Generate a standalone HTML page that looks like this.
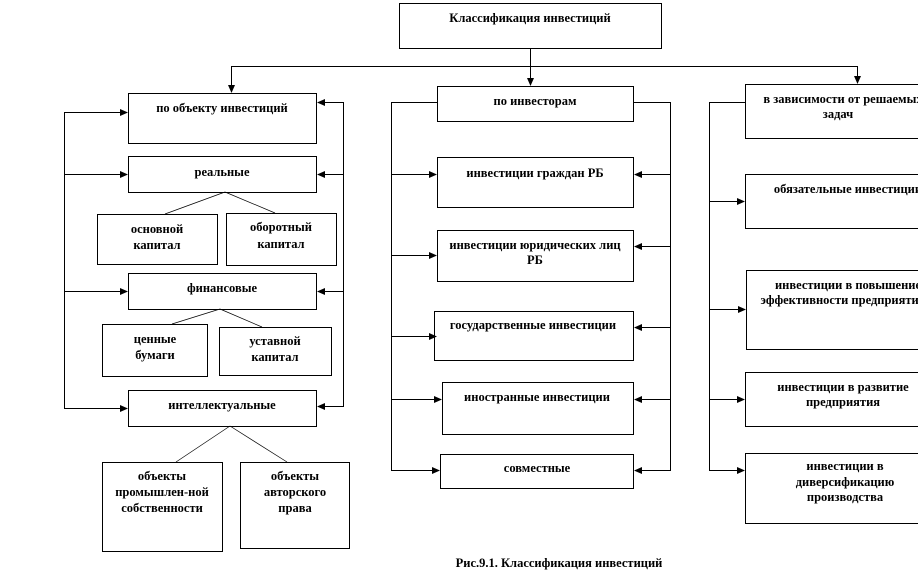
<!DOCTYPE html>
<html><head><meta charset="utf-8"><style>
html,body{margin:0;padding:0;background:#fff;}
svg{display:block;}
text{font-family:"Liberation Serif",serif;font-weight:bold;font-size:12.5px;fill:#000;text-anchor:middle;}
</style></head><body>
<svg width="918" height="588" viewBox="0 0 918 588" xmlns="http://www.w3.org/2000/svg">
<defs>
<marker id="a" markerWidth="8" markerHeight="8" refX="7" refY="4" orient="auto" markerUnits="userSpaceOnUse"><path d="M0,0.5 L8,4 L0,7.5Z" fill="#000"/></marker>
</defs>
<g fill="none" stroke="#000" stroke-width="1">
<rect x="399.5" y="3.5" width="262" height="45"/>
<line x1="530.5" y1="48" x2="530.5" y2="85" marker-end="url(#a)"/>
<line x1="231.5" y1="66.5" x2="857.5" y2="66.5"/>
<line x1="231.5" y1="66" x2="231.5" y2="92" marker-end="url(#a)"/>
<line x1="857.5" y1="66" x2="857.5" y2="83" marker-end="url(#a)"/>
<rect x="128.5" y="93.5" width="188" height="50"/>
<rect x="128.5" y="156.5" width="188" height="36"/>
<rect x="97.5" y="214.5" width="120" height="50"/>
<rect x="226.5" y="213.5" width="110" height="52"/>
<rect x="128.5" y="273.5" width="188" height="36"/>
<rect x="102.5" y="324.5" width="105" height="52"/>
<rect x="219.5" y="327.5" width="112" height="48"/>
<rect x="128.5" y="390.5" width="188" height="36"/>
<rect x="102.5" y="462.5" width="120" height="89"/>
<rect x="240.5" y="462.5" width="109" height="86"/>
<line x1="225" y1="192" x2="165" y2="214" stroke-width="0.7"/>
<line x1="225" y1="192" x2="275" y2="213" stroke-width="0.7"/>
<line x1="220" y1="309" x2="172" y2="324" stroke-width="0.7"/>
<line x1="220" y1="309" x2="262" y2="327" stroke-width="0.7"/>
<line x1="230" y1="426" x2="176" y2="462" stroke-width="0.7"/>
<line x1="230" y1="426" x2="287" y2="462" stroke-width="0.7"/>
<line x1="64.5" y1="112" x2="64.5" y2="408"/>
<line x1="64" y1="112.5" x2="127" y2="112.5" marker-end="url(#a)"/>
<line x1="64" y1="174.5" x2="127" y2="174.5" marker-end="url(#a)"/>
<line x1="64" y1="291.5" x2="127" y2="291.5" marker-end="url(#a)"/>
<line x1="64" y1="408.5" x2="127" y2="408.5" marker-end="url(#a)"/>
<line x1="343.5" y1="102" x2="343.5" y2="407"/>
<line x1="344" y1="102.5" x2="318" y2="102.5" marker-end="url(#a)"/>
<line x1="344" y1="174.5" x2="318" y2="174.5" marker-end="url(#a)"/>
<line x1="344" y1="291.5" x2="318" y2="291.5" marker-end="url(#a)"/>
<line x1="344" y1="406.5" x2="318" y2="406.5" marker-end="url(#a)"/>
<rect x="437.5" y="86.5" width="196" height="35"/>
<rect x="437.5" y="157.5" width="196" height="50"/>
<rect x="437.5" y="230.5" width="196" height="51"/>
<rect x="434.5" y="311.5" width="199" height="49"/>
<rect x="442.5" y="382.5" width="191" height="52"/>
<rect x="440.5" y="454.5" width="193" height="34"/>
<line x1="391.5" y1="102" x2="391.5" y2="471"/>
<line x1="391" y1="102.5" x2="437" y2="102.5"/>
<line x1="391" y1="174.5" x2="436" y2="174.5" marker-end="url(#a)"/>
<line x1="391" y1="255.5" x2="436" y2="255.5" marker-end="url(#a)"/>
<line x1="391" y1="336.5" x2="436" y2="336.5" marker-end="url(#a)"/>
<line x1="391" y1="399.5" x2="441" y2="399.5" marker-end="url(#a)"/>
<line x1="391" y1="470.5" x2="439" y2="470.5" marker-end="url(#a)"/>
<line x1="670.5" y1="102" x2="670.5" y2="471"/>
<line x1="634" y1="102.5" x2="671" y2="102.5"/>
<line x1="671" y1="174.5" x2="635" y2="174.5" marker-end="url(#a)"/>
<line x1="671" y1="246.5" x2="635" y2="246.5" marker-end="url(#a)"/>
<line x1="671" y1="327.5" x2="635" y2="327.5" marker-end="url(#a)"/>
<line x1="671" y1="399.5" x2="635" y2="399.5" marker-end="url(#a)"/>
<line x1="671" y1="470.5" x2="635" y2="470.5" marker-end="url(#a)"/>
<rect x="745.5" y="84.5" width="200" height="54"/>
<rect x="745.5" y="174.5" width="200" height="54"/>
<rect x="746.5" y="270.5" width="200" height="79"/>
<rect x="745.5" y="372.5" width="200" height="54"/>
<rect x="745.5" y="453.5" width="200" height="70"/>
<line x1="709.5" y1="102" x2="709.5" y2="471"/>
<line x1="709" y1="102.5" x2="745" y2="102.5"/>
<line x1="709" y1="201.5" x2="744" y2="201.5" marker-end="url(#a)"/>
<line x1="709" y1="309.5" x2="745" y2="309.5" marker-end="url(#a)"/>
<line x1="709" y1="399.5" x2="744" y2="399.5" marker-end="url(#a)"/>
<line x1="709" y1="470.5" x2="744" y2="470.5" marker-end="url(#a)"/>
</g>
<g>
<text x="530" y="22">Классификация инвестиций</text>
<text x="222" y="112">по объекту инвестиций</text>
<text x="222" y="176">реальные</text>
<text x="157" y="233">основной</text>
<text x="157" y="249">капитал</text>
<text x="281" y="231">оборотный</text>
<text x="281" y="248">капитал</text>
<text x="222" y="292">финансовые</text>
<text x="155" y="343">ценные</text>
<text x="155" y="359">бумаги</text>
<text x="275" y="345">уставной</text>
<text x="275" y="361">капитал</text>
<text x="222" y="409">интеллектуальные</text>
<text x="162" y="480">объекты</text>
<text x="162" y="496">промышлен-ной</text>
<text x="162" y="512">собственности</text>
<text x="295" y="480">объекты</text>
<text x="295" y="496">авторского</text>
<text x="295" y="512">права</text>
<text x="535" y="105">по инвесторам</text>
<text x="535" y="177">инвестиции граждан РБ</text>
<text x="535" y="249">инвестиции юридических лиц</text>
<text x="535" y="264">РБ</text>
<text x="533" y="329">государственные инвестиции</text>
<text x="537" y="401">иностранные инвестиции</text>
<text x="537" y="472">совместные</text>
<text x="843" y="103">в зависимости от решаемых</text>
<text x="838" y="118">задач</text>
<text x="848" y="193">обязательные инвестиции</text>
<text x="848" y="289">инвестиции в повышение</text>
<text x="843" y="304">эффективности предприятия</text>
<text x="843" y="391">инвестиции в развитие</text>
<text x="843" y="406">предприятия</text>
<text x="845" y="470">инвестиции в</text>
<text x="845" y="486">диверсификацию</text>
<text x="845" y="501">производства</text>
<text x="559" y="567" style="font-size:12.5px">Рис.9.1. Классификация инвестиций</text>
</g>
</svg>
</body></html>
